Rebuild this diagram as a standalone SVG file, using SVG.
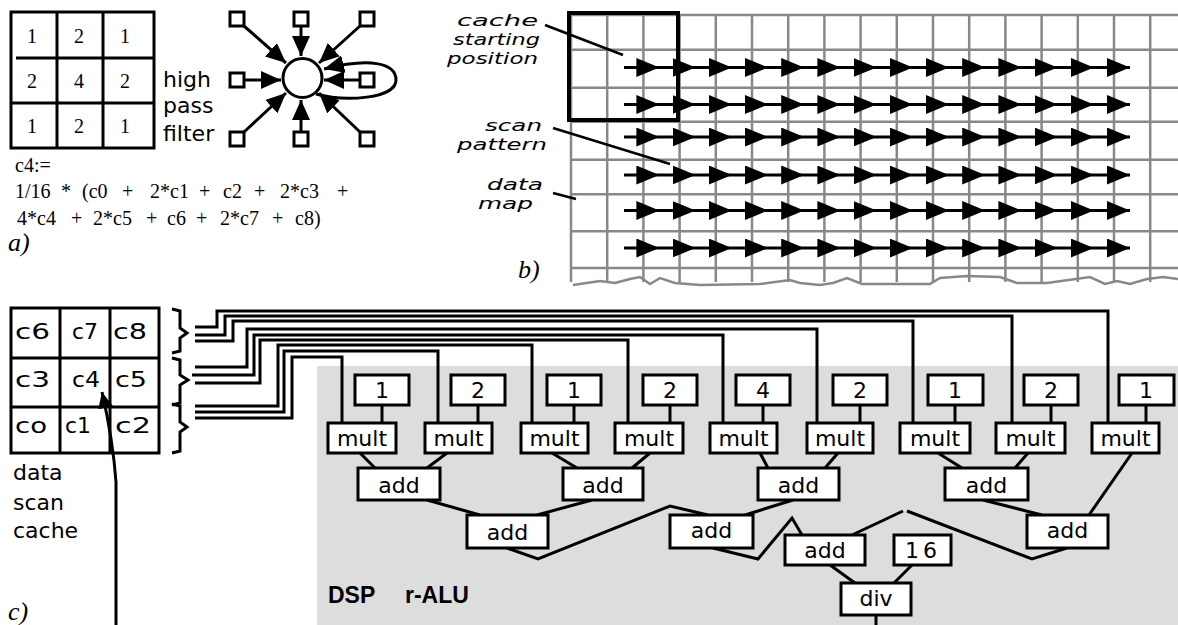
<svg xmlns="http://www.w3.org/2000/svg" width="1178" height="625" viewBox="0 0 1178 625">
<defs>
<style>
.box{fill:#fff;stroke:#000;stroke-width:3}
.ln{fill:none;stroke:#000;stroke-width:3}
.thin{fill:none;stroke:#000;stroke-width:2.5}
.grid{fill:none;stroke:#888;stroke-width:2.5}
.serif{font-family:"Liberation Serif","Times New Roman",serif;fill:#000}
.sans{font-family:"DejaVu Sans","Liberation Sans",sans-serif;fill:#000}
.lbl{font-family:"DejaVu Sans","Liberation Sans",sans-serif;font-size:22px;text-anchor:middle;fill:#000}
.it{font-family:"DejaVu Sans","Liberation Sans",sans-serif;font-style:italic;font-size:16px;fill:#000}
.tag{font-family:"Liberation Serif","Times New Roman",serif;font-style:italic;font-size:26px;fill:#000}
</style>
<marker id="ahA" markerUnits="userSpaceOnUse" markerWidth="22" markerHeight="20" refX="20" refY="9" orient="auto"><path d="M0,0 L20,9 L0,18 z" fill="#000"/></marker>
<marker id="ahB" markerUnits="userSpaceOnUse" markerWidth="24" markerHeight="20" refX="23" refY="9.5" orient="auto"><path d="M0,0 L23,9.5 L0,19 z" fill="#000"/></marker>
<marker id="ahC" markerUnits="userSpaceOnUse" markerWidth="17" markerHeight="16" refX="16" refY="7.5" orient="auto"><path d="M0,0 L16,7.5 L0,15 z" fill="#000"/></marker>
</defs>
<rect width="1178" height="625" fill="#fff"/>

<!-- ===== a) ===== -->
<g id="a-kernel">
<rect x="11" y="12" width="143" height="136" fill="none" stroke="#000" stroke-width="3"/>
<path d="M16,58 H154 M11,103 H154 M57,12 V148 M103,12 V148" class="ln"/>
<g class="serif" font-size="20" text-anchor="middle">
<text x="32" y="43">1</text><text x="79" y="43">2</text><text x="125" y="43">1</text>
<text x="32" y="88">2</text><text x="79" y="88">4</text><text x="125" y="88">2</text>
<text x="32" y="133">1</text><text x="79" y="133">2</text><text x="125" y="133">1</text>
</g>
</g>
<text id="a-label" class="sans" font-size="22"><tspan x="163" y="87">high</tspan><tspan x="163" y="113">pass</tspan><tspan x="163" y="141">filter</tspan></text>
<g id="a-formula" class="serif" font-size="20">
<text x="15" y="172">c4:=</text>
<text y="198"><tspan x="15">1/16</tspan><tspan x="61">*</tspan><tspan x="82">(c0</tspan><tspan x="122">+</tspan><tspan x="150">2*c1</tspan><tspan x="199">+</tspan><tspan x="223">c2</tspan><tspan x="254">+</tspan><tspan x="280">2*c3</tspan><tspan x="337">+</tspan></text>
<text y="225"><tspan x="17">4*c4</tspan><tspan x="71">+</tspan><tspan x="93">2*c5</tspan><tspan x="146">+</tspan><tspan x="167">c6</tspan><tspan x="196">+</tspan><tspan x="220">2*c7</tspan><tspan x="272">+</tspan><tspan x="295">c8)</tspan></text>
</g>
<text id="tag-a" class="tag" x="8" y="251">a)</text>

<g id="a-graph">
<g id="a-edges">
<path d="M316,94 C345,102 396,99 396,80 C396,62 368,58 324,69" class="ln" marker-end="url(#ahA)"/>
<line x1="244" y1="26" x2="286" y2="63" class="ln" marker-end="url(#ahA)"/>
<line x1="301" y1="26" x2="301" y2="56" class="ln" marker-end="url(#ahA)"/>
<line x1="360" y1="26" x2="319" y2="63" class="ln" marker-end="url(#ahA)"/>
<line x1="244" y1="80" x2="281" y2="80" class="ln" marker-end="url(#ahA)"/>
<line x1="360" y1="80" x2="324" y2="80" class="ln" marker-end="url(#ahA)"/>
<line x1="244" y1="132" x2="286" y2="93" class="ln" marker-end="url(#ahA)"/>
<line x1="301" y1="132" x2="301" y2="100" class="ln" marker-end="url(#ahA)"/>
<line x1="360" y1="132" x2="319" y2="93" class="ln" marker-end="url(#ahA)"/>
</g>
<circle id="a-center" cx="302.5" cy="78" r="19.5" fill="#fff" stroke="#000" stroke-width="3"/>
<g id="a-squares" fill="#fff" stroke="#000" stroke-width="3">
<rect x="230" y="12" width="14" height="14"/>
<rect x="294" y="12" width="14" height="14"/>
<rect x="360" y="12" width="14" height="14"/>
<rect x="230" y="73" width="14" height="14"/>
<rect x="360" y="73" width="14" height="14"/>
<rect x="230" y="132" width="14" height="14"/>
<rect x="294" y="132" width="14" height="14"/>
<rect x="360" y="132" width="14" height="14"/>
</g>
</g>

<!-- ===== b) ===== -->
<g id="b-map">
<path class="grid" d="M571,15 H1178 M571,49.7 H1178 M571,87.7 H1178 M571,121.7 H1178 M571,159.7 H1178 M571,194.2 H1178 M571,231.2 H1178 M571,268 H1178
M571,15 V282 M607.2,15 V282 M643.4,15 V282 M679.6,15 V282 M715.8,15 V282 M752,15 V282 M788.2,15 V282 M824.4,15 V282 M860.6,15 V282 M896.8,15 V282 M933,15 V282 M969.2,15 V282 M1005.4,15 V282 M1041.6,15 V282 M1077.8,15 V282 M1114,15 V282 M1150.2,15 V282"/>
<polyline class="grid" points="573,285 600,281 615,283 630,279 640,277 650,284 660,278 675,283 700,285 760,284 790,280 800,283 820,285 833,283 847,278 862,284 930,284 940,278 967,276 1000,277 1017,283 1047,283 1090,277 1105,284 1117,281 1130,284 1147,279 1163,277 1178,279"/>
</g>
<g id="b-scan" class="ln" marker-mid="url(#ahB)" marker-end="url(#ahB)">
<polyline points="624,67.5 659.4,67.5 695.6,67.5 731.8,67.5 768,67.5 804.2,67.5 840.4,67.5 876.6,67.5 912.8,67.5 949,67.5 985.2,67.5 1021.4,67.5 1057.6,67.5 1093.8,67.5 1130,67.5"/>
<polyline points="624,104.5 659.4,104.5 695.6,104.5 731.8,104.5 768,104.5 804.2,104.5 840.4,104.5 876.6,104.5 912.8,104.5 949,104.5 985.2,104.5 1021.4,104.5 1057.6,104.5 1093.8,104.5 1130,104.5"/>
<polyline points="624,137 659.4,137 695.6,137 731.8,137 768,137 804.2,137 840.4,137 876.6,137 912.8,137 949,137 985.2,137 1021.4,137 1057.6,137 1093.8,137 1130,137"/>
<polyline points="624,175 659.4,175 695.6,175 731.8,175 768,175 804.2,175 840.4,175 876.6,175 912.8,175 949,175 985.2,175 1021.4,175 1057.6,175 1093.8,175 1130,175"/>
<polyline points="624,210.5 659.4,210.5 695.6,210.5 731.8,210.5 768,210.5 804.2,210.5 840.4,210.5 876.6,210.5 912.8,210.5 949,210.5 985.2,210.5 1021.4,210.5 1057.6,210.5 1093.8,210.5 1130,210.5"/>
<polyline points="624,248 659.4,248 695.6,248 731.8,248 768,248 804.2,248 840.4,248 876.6,248 912.8,248 949,248 985.2,248 1021.4,248 1057.6,248 1093.8,248 1130,248"/>
</g>
<rect id="b-cache" x="569" y="13" width="109" height="107" fill="none" stroke="#000" stroke-width="4"/>
<g id="b-labels">
<text class="it"><tspan x="457" y="26" textLength="81" lengthAdjust="spacingAndGlyphs">cache</tspan><tspan x="453" y="45" textLength="87" lengthAdjust="spacingAndGlyphs">starting</tspan><tspan x="447" y="64" textLength="91" lengthAdjust="spacingAndGlyphs">position</tspan></text>
<text class="it"><tspan x="485" y="131" textLength="57" lengthAdjust="spacingAndGlyphs">scan</tspan><tspan x="457" y="150" textLength="90" lengthAdjust="spacingAndGlyphs">pattern</tspan></text>
<text class="it"><tspan x="487" y="190" textLength="56" lengthAdjust="spacingAndGlyphs">data</tspan><tspan x="478" y="209" textLength="55" lengthAdjust="spacingAndGlyphs">map</tspan></text>
</g>
<g id="b-leaders" class="thin">
<line x1="545" y1="25" x2="623" y2="55"/>
<line x1="553" y1="128" x2="670" y2="164"/>
<line x1="553" y1="193" x2="576" y2="199"/>
</g>
<text id="tag-b" class="tag" x="518" y="278">b)</text>

<!-- ===== c) ===== -->
<rect id="c-alu-bg" x="317" y="366" width="861" height="259" fill="#dddddd"/>

<g id="c-cache">
<rect x="11" y="308" width="148" height="145" fill="none" stroke="#000" stroke-width="3"/>
<path d="M11,358 H159 M11,407 H159 M60,308 V453 M110,308 V453" class="ln"/>
<g class="sans" font-size="21">
<text x="15" y="339" textLength="35" lengthAdjust="spacingAndGlyphs">c6</text>
<text x="72" y="339" textLength="26" lengthAdjust="spacingAndGlyphs">c7</text>
<text x="113" y="339" textLength="34" lengthAdjust="spacingAndGlyphs">c8</text>
<text x="15" y="387" textLength="35" lengthAdjust="spacingAndGlyphs">c3</text>
<text x="72" y="387" textLength="28" lengthAdjust="spacingAndGlyphs">c4</text>
<text x="115" y="387" textLength="32" lengthAdjust="spacingAndGlyphs">c5</text>
<text x="15" y="433" textLength="32" lengthAdjust="spacingAndGlyphs">co</text>
<text x="65" y="433" textLength="26" lengthAdjust="spacingAndGlyphs">c1</text>
<text x="115" y="433" textLength="36" lengthAdjust="spacingAndGlyphs">c2</text>
</g>
</g>
<text id="c-cache-label" class="sans" font-size="22"><tspan x="13" y="480">data</tspan><tspan x="13" y="510">scan</tspan><tspan x="13" y="538">cache</tspan></text>
<text id="tag-c" class="tag" x="8" y="620">c)</text>

<g id="c-braces" class="ln">
<polyline points="172,309 180,311 180,328 187,333 180,338 180,351 172,353"/>
<polyline points="172,358 180,360 180,375 188,380 180,385 180,403 172,405"/>
<polyline points="172,404 180,406 180,422 187,427 180,432 180,451 172,453"/>
</g>

<g id="connectors">
<g id="c-bus" class="ln">
<path d="M195,327 H217 V311 H1108 V423"/>
<path d="M195,335 H225 V316 H1012 V423"/>
<path d="M195,341 H233 V321 H913 V423"/>
<path d="M195,367 H247 V329 H817 V423"/>
<path d="M192,375 H254 V335 H723 V423"/>
<path d="M195,383 H260 V340 H628 V423"/>
<path d="M195,406 H278 V345 H532 V423"/>
<path d="M195,412 H284 V351 H438 V423"/>
<path d="M195,418 H292 V357 H342 V423"/>
</g>
<g id="c-stems" class="ln">
<path d="M382,405 V423 M478,405 V423 M574,405 V423 M670,405 V423 M763,405 V423 M860,405 V423 M955,405 V423 M1051,405 V423 M1146,405 V423"/>
</g>
<g id="c-tree" class="ln">
<line x1="360" y1="453" x2="375" y2="468"/>
<line x1="447" y1="453" x2="427" y2="468"/>
<line x1="552" y1="453" x2="577" y2="468"/>
<line x1="650" y1="453" x2="632" y2="468"/>
<line x1="760" y1="453" x2="768" y2="468"/>
<line x1="838" y1="453" x2="825" y2="468"/>
<line x1="938" y1="453" x2="962" y2="468"/>
<line x1="1028" y1="453" x2="1015" y2="468"/>
<line x1="1132" y1="453" x2="1089" y2="515"/>
<line x1="427" y1="500" x2="480" y2="515"/>
<line x1="592" y1="500" x2="537" y2="515"/>
<polyline points="507,548 538,559 670,506 708,515"/>
<line x1="793" y1="500" x2="745" y2="515"/>
<polyline points="713,548 758,559 792,518 802,535"/>
<line x1="983" y1="500" x2="1042" y2="515"/>
<polyline points="1067,548 1032,559 907,511"/>
<line x1="903" y1="511" x2="852" y2="535"/>
<line x1="830" y1="565" x2="855" y2="583"/>
<line x1="912" y1="565" x2="894" y2="583"/>
<line x1="876" y1="615" x2="876" y2="625"/>
</g>
<path id="c-scan-arrow" d="M116,625 V482 Q113,440 102,392" class="ln" marker-end="url(#ahC)"/>
</g>

<g id="c-consts">
<g id="k1"><rect class="box" x="355" y="375" width="54" height="30"/><text class="lbl" x="382" y="398">1</text></g>
<g id="k2"><rect class="box" x="451" y="375" width="54" height="30"/><text class="lbl" x="478" y="398">2</text></g>
<g id="k3"><rect class="box" x="547" y="375" width="54" height="30"/><text class="lbl" x="574" y="398">1</text></g>
<g id="k4"><rect class="box" x="643" y="375" width="54" height="30"/><text class="lbl" x="670" y="398">2</text></g>
<g id="k5"><rect class="box" x="736" y="375" width="54" height="30"/><text class="lbl" x="763" y="398">4</text></g>
<g id="k6"><rect class="box" x="833" y="375" width="54" height="30"/><text class="lbl" x="860" y="398">2</text></g>
<g id="k7"><rect class="box" x="928" y="375" width="55" height="30"/><text class="lbl" x="955" y="398">1</text></g>
<g id="k8"><rect class="box" x="1024" y="375" width="54" height="30"/><text class="lbl" x="1051" y="398">2</text></g>
<g id="k9"><rect class="box" x="1119" y="375" width="55" height="30"/><text class="lbl" x="1146" y="398">1</text></g>
</g>
<g id="c-mults">
<g id="m1"><rect class="box" x="328" y="423" width="68" height="30"/><text class="lbl" x="362" y="446">mult</text></g>
<g id="m2"><rect class="box" x="425" y="423" width="67" height="30"/><text class="lbl" x="458.5" y="446">mult</text></g>
<g id="m3"><rect class="box" x="521" y="423" width="67" height="30"/><text class="lbl" x="554.5" y="446">mult</text></g>
<g id="m4"><rect class="box" x="615" y="423" width="68" height="30"/><text class="lbl" x="649" y="446">mult</text></g>
<g id="m5"><rect class="box" x="710" y="423" width="67" height="30"/><text class="lbl" x="743.5" y="446">mult</text></g>
<g id="m6"><rect class="box" x="807" y="423" width="66" height="30"/><text class="lbl" x="840" y="446">mult</text></g>
<g id="m7"><rect class="box" x="900" y="423" width="70" height="30"/><text class="lbl" x="935" y="446">mult</text></g>
<g id="m8"><rect class="box" x="996" y="423" width="69" height="30"/><text class="lbl" x="1030.5" y="446">mult</text></g>
<g id="m9"><rect class="box" x="1092" y="423" width="67" height="30"/><text class="lbl" x="1125.5" y="446">mult</text></g>
</g>
<g id="c-adds">
<g id="add1"><rect class="box" x="358" y="468" width="82" height="32"/><text class="lbl" x="399" y="493">add</text></g>
<g id="add2"><rect class="box" x="563" y="468" width="80" height="32"/><text class="lbl" x="603" y="493">add</text></g>
<g id="add3"><rect class="box" x="758" y="468" width="81" height="32"/><text class="lbl" x="798.5" y="493">add</text></g>
<g id="add4"><rect class="box" x="945" y="468" width="83" height="32"/><text class="lbl" x="986.5" y="493">add</text></g>
<g id="add5"><rect class="box" x="467" y="515" width="81" height="33"/><text class="lbl" x="507.5" y="540">add</text></g>
<g id="add6"><rect class="box" x="670" y="515" width="83" height="33"/><text class="lbl" x="711.5" y="538">add</text></g>
<g id="add7"><rect class="box" x="1027" y="515" width="81" height="33"/><text class="lbl" x="1067.5" y="538">add</text></g>
<g id="add8"><rect class="box" x="785" y="535" width="80" height="30"/><text class="lbl" x="825" y="558">add</text></g>
<g id="k16"><rect class="box" x="894" y="535" width="57" height="30"/><text class="lbl" x="923" y="558" letter-spacing="4">16</text></g>
<g id="div"><rect class="box" x="841" y="583" width="70" height="32"/><text class="lbl" x="876" y="606">div</text></g>
</g>
<g id="c-alu-label" font-family="'Liberation Sans',Arial,sans-serif" font-weight="bold" font-size="23" fill="#000">
<text x="328" y="603">DSP</text>
<text x="405" y="603">r-ALU</text>
</g>
</svg>
